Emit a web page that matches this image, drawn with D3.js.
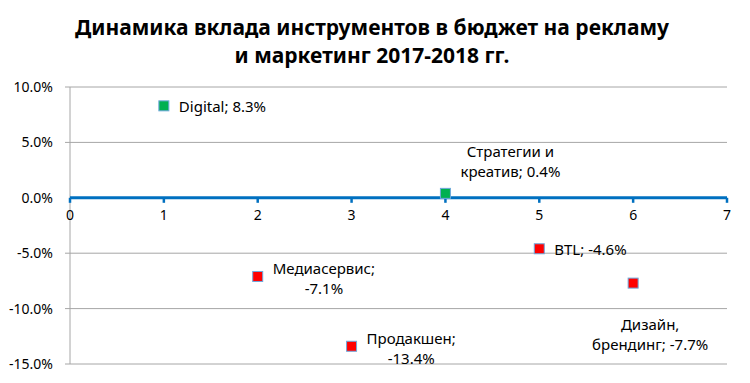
<!DOCTYPE html>
<html><head><meta charset="utf-8">
<script src="https://cdn.jsdelivr.net/npm/d3@7"></script>
<style>body{margin:0;background:#fff}svg{display:block}</style>
</head><body>
<svg id="c" width="750" height="383"></svg>
<script>
const names = ["Digital", "Медиасервис", "Продакшен", "Стратегии и креатив", "BTL", "Дизайн, брендинг"];
const xVals = [1, 2, 3, 4, 5, 6];
const yVals = [8.3, -7.1, -13.4, 0.4, -4.6, -7.7];
const labelLines = [["Digital; 8.3%"], ["Медиасервис;", "-7.1%"], ["Продакшен;", "-13.4%"], ["Стратегии и", "креатив; 0.4%"], ["BTL; -4.6%"], ["Дизайн,", "брендинг; -7.7%"]];
const labelPos = ["right", "right", "right", "above", "right", "below"];
const yTicks = [10, 5, 0, -5, -10, -15];
const xTicks = [0, 1, 2, 3, 4, 5, 6, 7];
const titleLines = ["Динамика вклада инструментов в бюджет на рекламу", "и маркетинг 2017-2018 гг."];

const svg = d3.select("#c");
const font = "Noto Sans, sans-serif";
const x = d3.scaleLinear().domain([0, 7]).range([70, 727]);
const y = d3.scaleLinear().domain([-15, 10]).range([364, 87]);

svg.append("g").selectAll("text").data(titleLines).join("text")
  .attr("x", 372).attr("y", (d, i) => 35 + i * 28)
  .attr("text-anchor", "middle").attr("font-family", font).attr("font-weight", "bold")
  .attr("font-size", 21).attr("fill", "#000").text(d => d);

// gridlines
svg.append("g").selectAll("line").data(yTicks.filter(t => t !== 0)).join("line")
  .attr("x1", x(0) - 5).attr("x2", x(7)).attr("y1", d => y(d)).attr("y2", d => y(d))
  .attr("stroke", "#a6a6a6").attr("stroke-width", 1);
// y axis
svg.append("line").attr("x1", x(0)).attr("x2", x(0)).attr("y1", y(10)).attr("y2", y(-15))
  .attr("stroke", "#a6a6a6");
svg.append("g").selectAll("text").data(yTicks).join("text")
  .attr("x", 53).attr("y", d => y(d) + 5).attr("text-anchor", "end")
  .attr("font-family", font).attr("font-size", 14).attr("fill", "#000")
  .text(d => d.toFixed(1) + "%");

// x axis at 0
svg.append("line").attr("x1", x(0)).attr("x2", x(7)).attr("y1", y(0)).attr("y2", y(0))
  .attr("stroke", "#0070c0").attr("stroke-width", 3);
svg.append("g").selectAll("line").data(xTicks).join("line")
  .attr("x1", d => x(d)).attr("x2", d => x(d)).attr("y1", y(0)).attr("y2", y(0) + 5)
  .attr("stroke", "#0070c0").attr("stroke-width", 2.5);
svg.append("g").selectAll("text").data(xTicks).join("text")
  .attr("x", d => x(d)).attr("y", y(0) + 22).attr("text-anchor", "middle")
  .attr("font-family", font).attr("font-size", 14).attr("fill", "#000").text(d => d);

// points
const data = names.map((n, i) => ({n, x: xVals[i], y: yVals[i], lines: labelLines[i], pos: labelPos[i]}));
svg.append("g").selectAll("rect").data(data).join("rect")
  .attr("x", d => x(d.x) - 5).attr("y", d => y(d.y) - 5).attr("width", 10).attr("height", 10)
  .attr("fill", d => d.y >= 0 ? "#00b050" : "#ff0000")
  .attr("stroke", "#6fa8dc").attr("stroke-width", 1);

// labels
const lg = svg.append("g");
const lh = 20;
data.forEach(d => {
  const px = x(d.x), py = y(d.y);
  const t = lg.append("text").attr("font-family", font).attr("font-size", 15).attr("fill", "#000");
  const spans = d.lines.map(s => t.append("tspan").text(s));
  const widths = spans.map(s => s.node().getComputedTextLength());
  const w = Math.max(...widths);
  const n = d.lines.length;
  let cx, startY;
  if (d.pos === "right") {
    cx = px + 15 + w / 2;
    startY = n === 1 ? py + 6 : py - 2;
  } else if (d.pos === "above") {
    cx = px + 65; startY = py - 36;
  } else {
    cx = px + 17; startY = py + 47;
  }
  spans.forEach((s, i) => s.attr("x", cx).attr("y", startY + i * lh).attr("text-anchor", "middle"));
});
</script>
</body></html>
